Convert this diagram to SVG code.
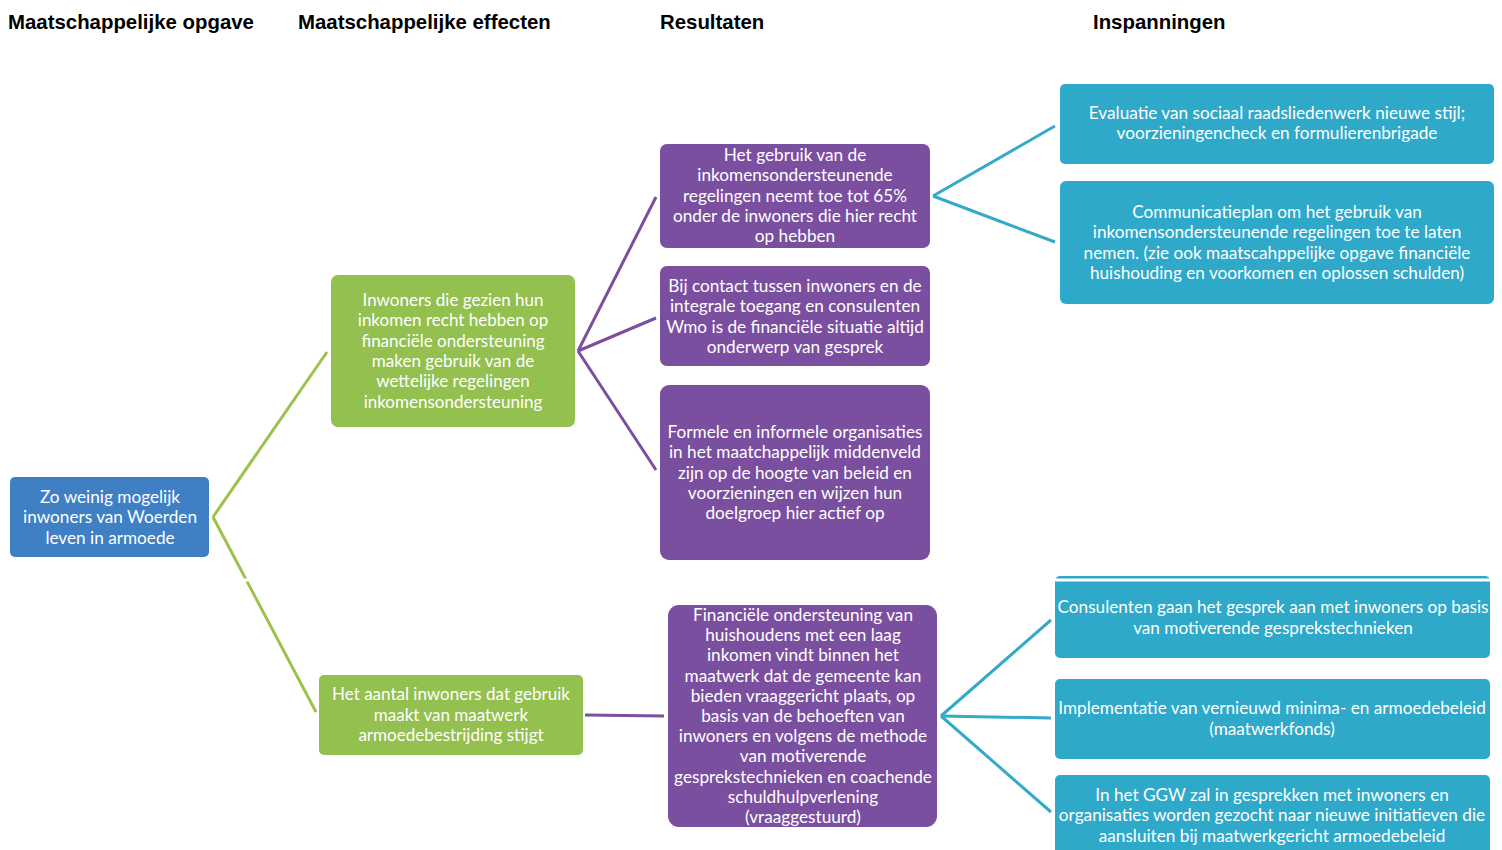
<svg xmlns="http://www.w3.org/2000/svg" width="1502" height="850" viewBox="0 0 1502 850">
<style>
.h{font-family:"Liberation Sans",Arial,sans-serif;font-weight:bold;font-size:20.4px;fill:#000}
.t{font-family:Lato,"Open Sans",sans-serif;font-size:17.2px;fill:#fff;text-anchor:middle}
.tg{font-size:17px}
.blue{fill:#3f80c4}
.green{fill:#93c04f}
.purple{fill:#7b4f9f}
.teal{fill:#2fa9c9}
.cg{stroke:#9cc24c;stroke-width:3;fill:none}
.cp{stroke:#7b4fa0;stroke-width:3;fill:none}
.ct{stroke:#33aac9;stroke-width:3;fill:none}
</style>
<rect width="1502" height="850" fill="#fff"/>
<g id="headers">
<text class="h" x="8" y="29">Maatschappelijke opgave</text>
<text class="h" x="298" y="29">Maatschappelijke effecten</text>
<text class="h" x="660" y="29">Resultaten</text>
<text class="h" x="1093" y="29">Inspanningen</text>
</g>
<g id="connectors">
<path class="cg" d="M213,517 L327,352"/>
<path class="cg" d="M213,517 L316,712"/>
<path class="cp" d="M578,351 L656,197"/>
<path class="cp" d="M578,351 L656,318"/>
<path class="cp" d="M578,351 L656,470"/>
<path class="cp" d="M585,715 L664,716"/>
<path class="ct" d="M933,196 L1055,126"/>
<path class="ct" d="M933,196 L1055,242"/>
<path class="ct" d="M941,716 L1051,620"/>
<path class="ct" d="M941,716 L1051,718"/>
<path class="ct" d="M941,716 L1051,812"/>
</g>
<g id="n-opgave">
<rect class="blue" x="10" y="477" width="199" height="80" rx="5"/>
<text class="t" x="110" y="503"><tspan x="110">Zo weinig mogelijk</tspan><tspan x="110" dy="20.3">inwoners van Woerden</tspan><tspan x="110" dy="20.3">leven in armoede</tspan></text>
</g>
<g id="n-effect1">
<rect class="green" x="331" y="275" width="244" height="152" rx="7"/>
<text class="t tg" x="453" y="306"><tspan x="453">Inwoners die gezien hun</tspan><tspan x="453" dy="20.3">inkomen recht hebben op</tspan><tspan x="453" dy="20.3">financiële ondersteuning</tspan><tspan x="453" dy="20.3">maken gebruik van de</tspan><tspan x="453" dy="20.3">wettelijke regelingen</tspan><tspan x="453" dy="20.3">inkomensondersteuning</tspan></text>
</g>
<g id="n-effect2">
<rect class="green" x="319" y="675" width="264" height="80" rx="5"/>
<text class="t tg" x="451" y="700"><tspan x="451">Het aantal inwoners dat gebruik</tspan><tspan x="451" dy="20.5">maakt van  maatwerk</tspan><tspan x="451" dy="20.5">armoedebestrijding stijgt</tspan></text>
</g>
<g id="n-res1">
<rect class="purple" x="660" y="144" width="270" height="104" rx="7"/>
<text class="t" x="795" y="161"><tspan x="795">Het gebruik van de</tspan><tspan x="795" dy="20.3">inkomensondersteunende</tspan><tspan x="795" dy="20.3">regelingen neemt toe tot 65%</tspan><tspan x="795" dy="20.3">onder de inwoners die hier recht</tspan><tspan x="795" dy="20.3">op hebben</tspan></text>
</g>
<g id="n-res2">
<rect class="purple" x="660" y="266" width="270" height="100" rx="7"/>
<text class="t" x="795" y="292"><tspan x="795">Bij contact tussen inwoners en de</tspan><tspan x="795" dy="20.3">integrale toegang en consulenten</tspan><tspan x="795" dy="20.3">Wmo is de financiële situatie altijd</tspan><tspan x="795" dy="20.3">onderwerp van gesprek</tspan></text>
</g>
<g id="n-res3">
<rect class="purple" x="660" y="385" width="270" height="175" rx="9"/>
<text class="t" x="795" y="438"><tspan x="795">Formele en informele organisaties</tspan><tspan x="795" dy="20.3">in het maatchappelijk middenveld</tspan><tspan x="795" dy="20.3">zijn op de hoogte van beleid en</tspan><tspan x="795" dy="20.3">voorzieningen en wijzen hun</tspan><tspan x="795" dy="20.3">doelgroep hier actief op</tspan></text>
</g>
<g id="n-res4">
<rect class="purple" x="668" y="605" width="269" height="222" rx="11"/>
<text class="t" x="803" y="621"><tspan x="803">Financiële ondersteuning van</tspan><tspan x="803" dy="20.2">huishoudens met een laag</tspan><tspan x="803" dy="20.2">inkomen vindt binnen het</tspan><tspan x="803" dy="20.2">maatwerk dat de gemeente kan</tspan><tspan x="803" dy="20.2">bieden  vraaggericht plaats,  op</tspan><tspan x="803" dy="20.2">basis van de behoeften van</tspan><tspan x="803" dy="20.2">inwoners en  volgens de methode</tspan><tspan x="803" dy="20.2">van motiverende</tspan><tspan x="803" dy="20.2">gesprekstechnieken en coachende</tspan><tspan x="803" dy="20.2">schuldhulpverlening</tspan><tspan x="803" dy="20.2">(vraaggestuurd)</tspan></text>
</g>
<g id="n-insp1">
<rect class="teal" x="1060" y="84" width="434" height="80" rx="5"/>
<text class="t" x="1277" y="119"><tspan x="1277">Evaluatie van sociaal raadsliedenwerk nieuwe stijl;</tspan><tspan x="1277" dy="20.3">voorzieningencheck en formulierenbrigade</tspan></text>
</g>
<g id="n-insp2">
<rect class="teal" x="1060" y="181" width="434" height="123" rx="6"/>
<text class="t" x="1277" y="218"><tspan x="1277">Communicatieplan om het gebruik van</tspan><tspan x="1277" dy="20.3">inkomensondersteunende regelingen toe te laten</tspan><tspan x="1277" dy="20.3">nemen. (zie ook maatscahppelijke opgave financiële</tspan><tspan x="1277" dy="20.3">huishouding en voorkomen en oplossen schulden)</tspan></text>
</g>
<g id="n-insp3">
<rect class="teal" x="1055" y="576" width="435" height="82" rx="5"/>
<text class="t" x="1273" y="613"><tspan x="1273">Consulenten gaan het gesprek aan met inwoners op basis</tspan><tspan x="1273" dy="20.5">van motiverende gesprekstechnieken</tspan></text>
</g>
<g id="n-insp4">
<rect class="teal" x="1055" y="679" width="435" height="80" rx="5"/>
<text class="t" x="1272" y="714"><tspan x="1272">Implementatie van vernieuwd minima- en armoedebeleid</tspan><tspan x="1272" dy="20.5">(maatwerkfonds)</tspan></text>
</g>
<g id="n-insp5">
<rect class="teal" x="1055" y="775" width="435" height="90" rx="5"/>
<text class="t" x="1272" y="801"><tspan x="1272">In het GGW zal in gesprekken met inwoners en</tspan><tspan x="1272" dy="20.3">organisaties worden gezocht naar nieuwe initiatieven die</tspan><tspan x="1272" dy="20.3">aansluiten bij maatwerkgericht armoedebeleid</tspan></text>
</g>
<rect x="0" y="578.5" width="1502" height="3" fill="#fff"/>
</svg>
